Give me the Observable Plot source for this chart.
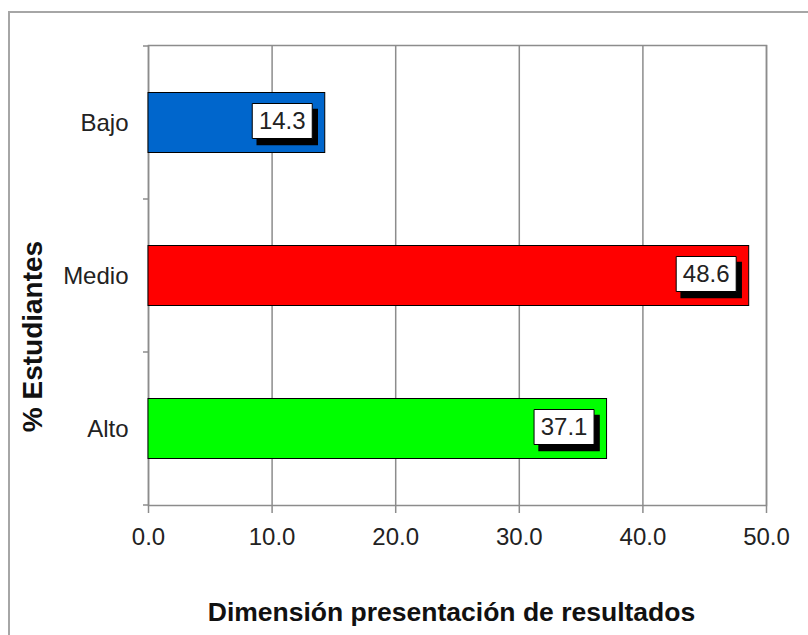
<!DOCTYPE html>
<html><head><meta charset="utf-8">
<script src="https://cdn.jsdelivr.net/npm/d3@7"></script>
<script src="https://cdn.jsdelivr.net/npm/@observablehq/plot@0.6"></script>
<style>
body{margin:0;background:#fff;overflow:hidden}
#wrap{position:relative;width:808px;height:635px;overflow:hidden}
#border{position:absolute;left:8px;top:11px;width:900px;height:800px;border:2px solid #a6a6a6;box-sizing:border-box;pointer-events:none}
#chart{position:absolute;left:0;top:0}
</style></head><body>
<div id="wrap"><div id="chart"></div><div id="border"></div></div>
<script>
const categories = ["Bajo", "Medio", "Alto"];
const values = [14.3, 48.6, 37.1];
const colors = ["#0066CC", "#FF0000", "#00FF00"];
const xTicks = [0, 10, 20, 30, 40, 50];
const xTitle = "Dimensión presentación de resultados";
const yTitle = "% Estudiantes";

const data = categories.map((c, i) => ({category: c, value: values[i], color: colors[i]}));
const box = {draw(ctx) { ctx.rect(-30, -17.5, 60, 35); }};

function bandTicks(index, scales) {
  const y = scales.y, x = scales.x;
  const bw = typeof y.bandwidth === "function" ? y.bandwidth() : y.bandwidth;
  const ys = categories.map(c => y(c));
  ys.push(y(categories[categories.length - 1]) + bw);
  const x0 = x(0);
  const g = d3.create("svg:g").attr("stroke", "#8c8c8c").attr("stroke-width", 1.5);
  for (const v of ys) g.append("line").attr("x1", x0 - 5).attr("x2", x0).attr("y1", v).attr("y2", v);
  return g.node();
}

const chart = Plot.plot({
  width: 808, height: 635,
  marginLeft: 148, marginRight: 42, marginTop: 45, marginBottom: 130,
  style: {fontFamily: "'Liberation Sans', Arial, sans-serif", fontSize: "24px", color: "#222", background: "transparent"},
  x: {domain: [0, 50]},
  y: {domain: categories, padding: 0},
  marks: [
    Plot.gridX(xTicks, {stroke: "#8c8c8c", strokeOpacity: 1, strokeWidth: 1.5}),
    Plot.frame({stroke: "#8c8c8c", strokeWidth: 1.5}),
    Plot.barX(data, {x: "value", y: "category", fill: "color", stroke: "black", strokeWidth: 1, insetTop: 46.5, insetBottom: 46.5}),
    Plot.dot(data, {x: "value", y: "category", symbol: box, fill: "black", stroke: "black", dx: -38, dy: 4}),
    Plot.dot(data, {x: "value", y: "category", symbol: box, fill: "white", stroke: "black", strokeWidth: 1, dx: -43, dy: -2}),
    Plot.text(data, {x: "value", y: "category", text: d => d.value.toFixed(1), dx: -43, dy: -2, fontSize: 24, fill: "#222"}),
    Plot.axisX({ticks: xTicks, tickFormat: d => d.toFixed(1), tickSize: 8, tickPadding: 14, stroke: "#8c8c8c", strokeWidth: 1.5, fill: "#222", fontSize: 24, label: null}),
    Plot.axisY({tickSize: 0, tickPadding: 20, fill: "#222", fontSize: 24, label: null}),
    bandTicks,
    Plot.text([xTitle], {frameAnchor: "bottom", textAnchor: "middle", lineAnchor: "middle", dx: -6, dy: 107, fontSize: 26.5, fontWeight: "bold", fill: "#111"}),
    Plot.text([yTitle], {frameAnchor: "left", textAnchor: "middle", lineAnchor: "middle", rotate: -90, dx: -115, dy: 61, fontSize: 28, fontWeight: "bold", fill: "#111"})
  ]
});
document.getElementById("chart").appendChild(chart);
</script>
</body></html>
